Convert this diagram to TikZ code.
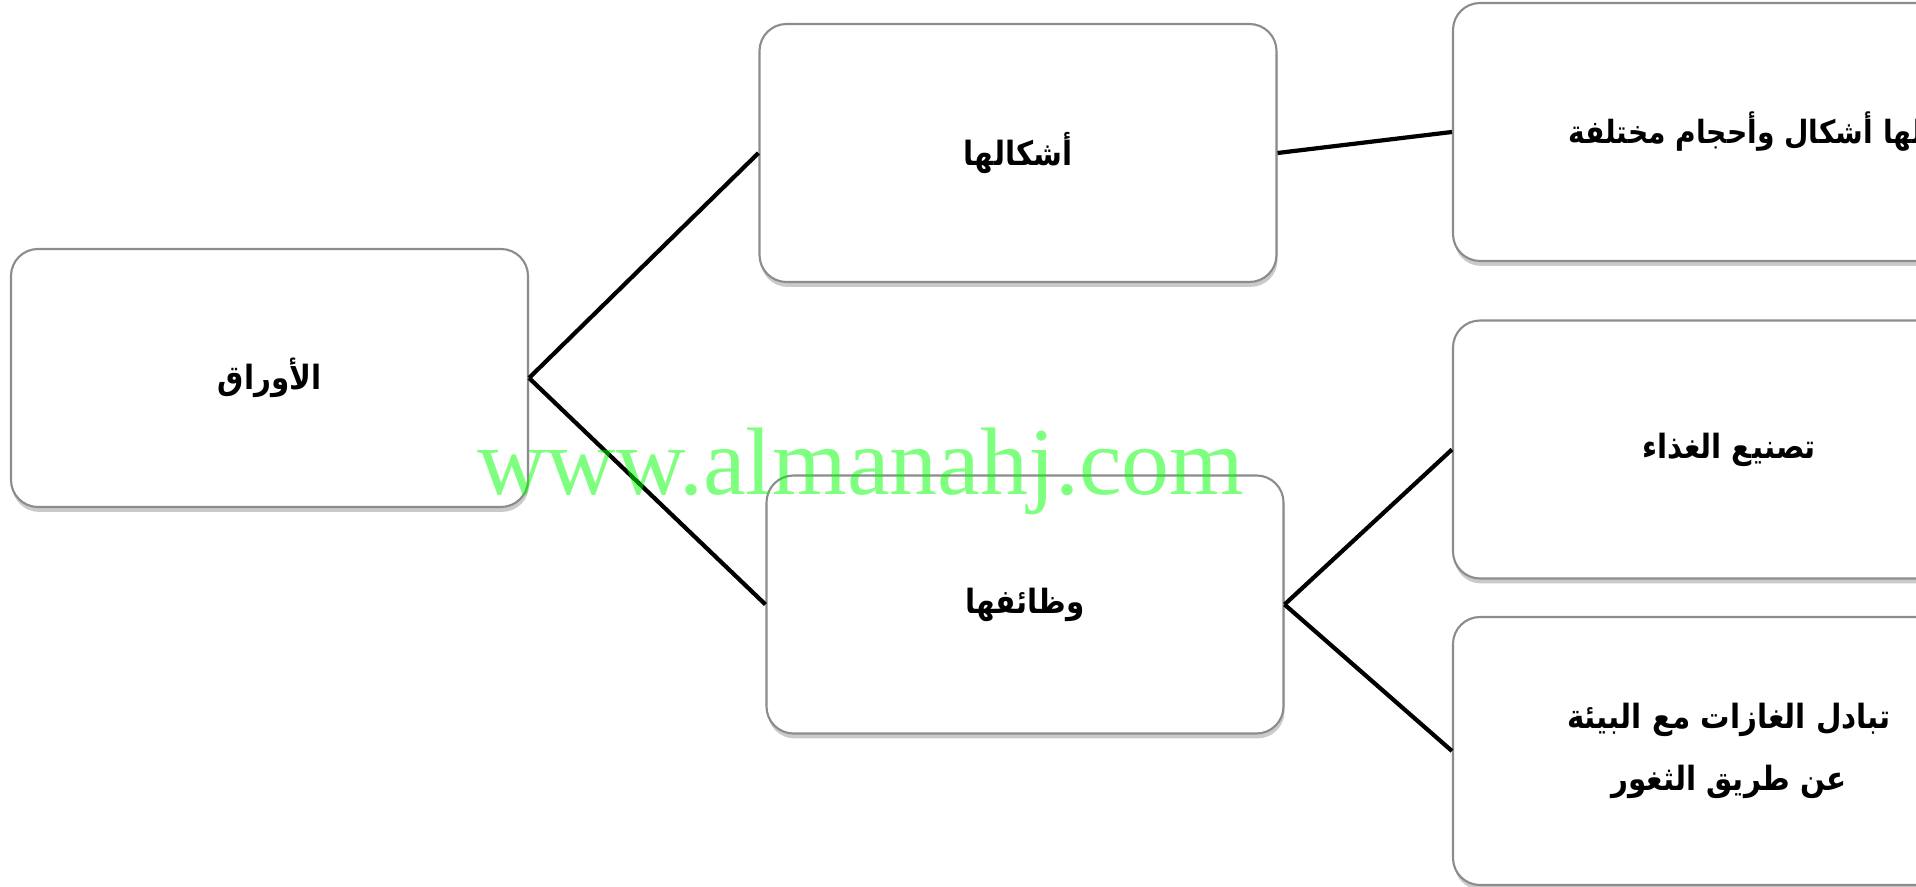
\documentclass[tikz,border=0pt]{standalone}
\usepackage{fontspec}
\usetikzlibrary{shadows}
\TeXXeTstate=1
\newfontfamily\arabicfont[Script=Arabic, FakeStretch=0.88]{DejaVu Sans}
\newfontfamily\wmfont{Liberation Serif}
\newcommand{\ar}[1]{\arabicfont\bfseries\beginR #1\endR}

\begin{document}
\begin{tikzpicture}[
    box/.style={draw=black!45, line width=0.6pt, fill=white, rounded corners=0.27cm,
      minimum width=5.17cm, minimum height=2.58cm, align=center,
      font=\fontsize{9.5}{17.4}\selectfont,
      drop shadow={shadow xshift=0.3pt, shadow yshift=-1.4pt, opacity=0.35, fill=black!60}},
    link/.style={line width=1.2pt, black}
  ]
  \useasboundingbox (0,0) rectangle (19.16,-8.87);
  \clip (0,0) rectangle (19.16,-8.87);

  \node[box] (b0) at (2.695,-3.78) {\ar{الأوراق}};
  \node[box] (b1) at (10.18,-1.53) {\ar{أشكالها}};
  \node[box] (b2) at (10.25,-6.045) {\ar{وظائفها}};

  \node[box, minimum width=5.52cm, font=\fontsize{9.1}{17.4}\selectfont] (c1) at (17.29,-1.32) {\makebox[3.22cm][l]{\ar{لها أشكال وأحجام مختلفة}}};
  \node[box, minimum width=5.52cm] (c2) at (17.29,-4.495) {\ar{تصنيع الغذاء}};
  \node[box, minimum width=5.52cm, minimum height=2.68cm] (c3) at (17.29,-7.51) {\ar{تبادل الغازات مع البيئة}\\\ar{عن طريق الثغور}};

  \draw[link] (b0.east) -- (b1.west);
  \draw[link] (b0.east) -- (b2.west);
  \draw[link] (b1.east) -- (c1.west);
  \draw[link] (b2.east) -- (c2.west);
  \draw[link] (b2.east) -- (c3.west);

  \node[anchor=base west, inner sep=0, font=\wmfont\fontsize{27.3}{27.3}\selectfont,
    text=green, text opacity=0.5] (wm) at (4.77,-4.95) {www.almanahj.com};
\end{tikzpicture}
\end{document}
